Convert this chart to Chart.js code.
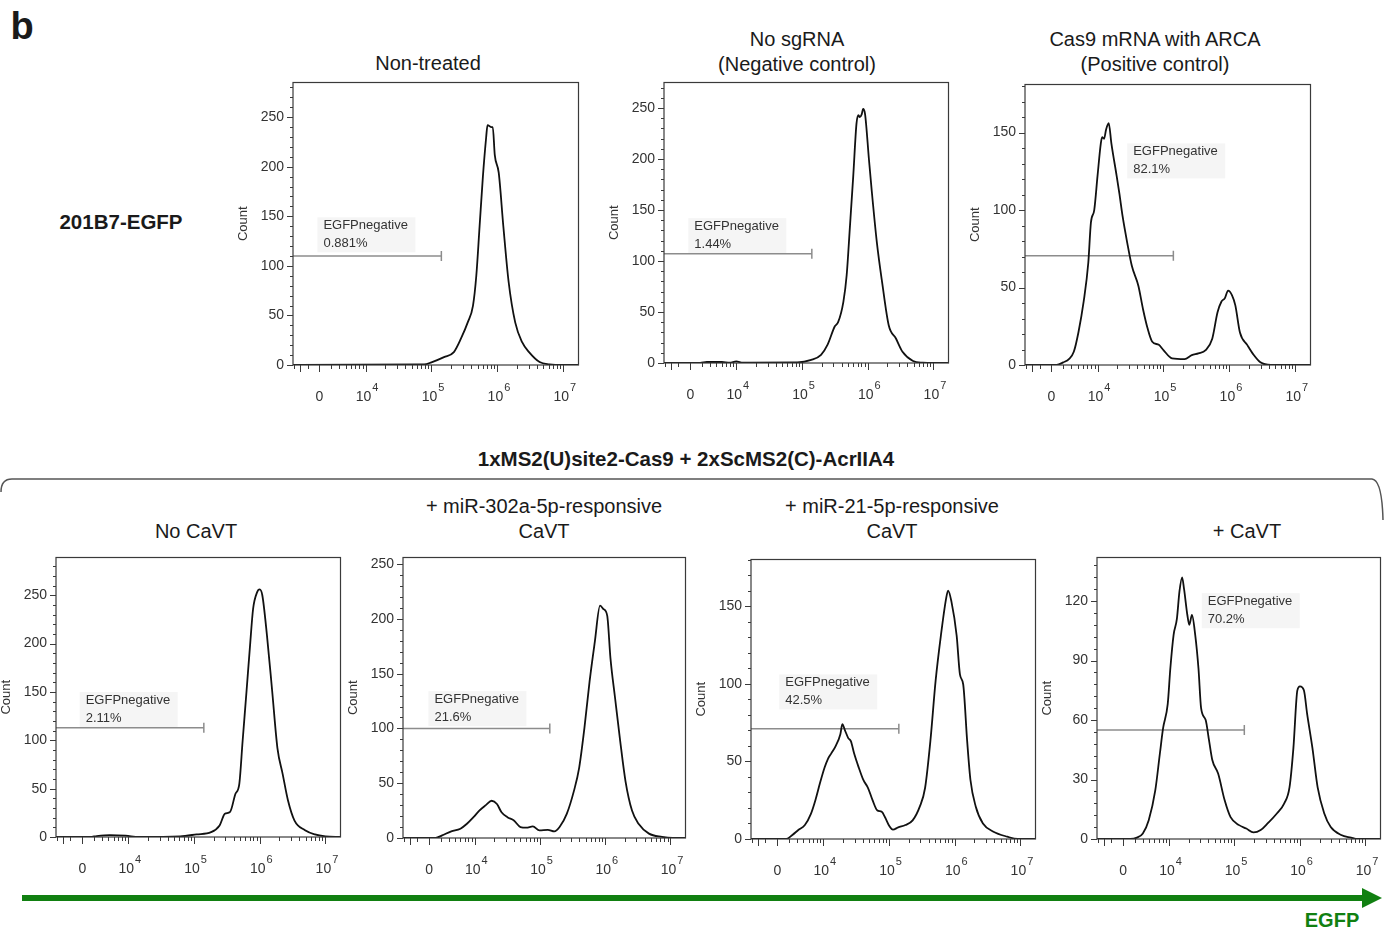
<!DOCTYPE html>
<html lang="en">
<head>
<meta charset="UTF-8">
<title>EGFP flow histograms</title>
<script src="https://cdn.jsdelivr.net/npm/chart.js"></script>
<style>
  body { margin: 0; background: #fff; font-family: "Liberation Sans", Arial, sans-serif; }
  #page { position: relative; width: 1394px; height: 932px; overflow: hidden; }
  .t { position: absolute; transform: translate(-50%, -50%); white-space: nowrap; color: #1a1a1a; font-size: 20px; line-height: 1; }
  .b { font-weight: bold; }
  canvas { position: absolute; }
  svg { position: absolute; left: 0; top: 0; }
</style>
</head>
<body>
<div id="page">
  <svg width="1394" height="932">
    <path d="M1 492 Q1 479 12 479 L1372 479 Q1382 480 1383 520" fill="none" stroke="#555" stroke-width="1.5"/>
    <line x1="22" y1="898" x2="1366" y2="898" stroke="#118011" stroke-width="6"/>
    <polygon points="1362,888 1382,898 1362,908" fill="#118011"/>
  </svg>
  <div class="t b" style="left:22px;top:26px;font-size:38px;">b</div>
  <div class="t" style="left:428px;top:63px;">Non-treated</div>
  <div class="t" style="left:797px;top:39px;">No sgRNA</div>
  <div class="t" style="left:797px;top:64px;">(Negative control)</div>
  <div class="t" style="left:1155px;top:39px;">Cas9 mRNA with ARCA</div>
  <div class="t" style="left:1155px;top:64px;">(Positive control)</div>
  <div class="t b" style="left:121px;top:222px;font-size:20.5px;">201B7-EGFP</div>
  <div class="t b" style="left:686px;top:459px;font-size:20.5px;">1xMS2(U)site2-Cas9 + 2xScMS2(C)-AcrIIA4</div>
  <div class="t" style="left:196px;top:531px;">No CaVT</div>
  <div class="t" style="left:544px;top:506px;">+ miR-302a-5p-responsive</div>
  <div class="t" style="left:544px;top:531px;">CaVT</div>
  <div class="t" style="left:892px;top:506px;">+ miR-21-5p-responsive</div>
  <div class="t" style="left:892px;top:531px;">CaVT</div>
  <div class="t" style="left:1247px;top:531px;">+ CaVT</div>
  <div class="t b" style="left:1332px;top:920px;font-size:20px;color:#118011;">EGFP</div>
</div>

<script>
// x values are positions on the biexponential EGFP axis, in decades (4 = 10^4, 3.3 = 0)
const nonTreatedX = [2.9, 4.89, 5.0, 5.19, 5.34, 5.45, 5.55, 5.63, 5.68, 5.73, 5.78, 5.83, 5.85, 5.91, 5.93, 5.96, 6.02, 6.09, 6.17, 6.27, 6.375, 6.48, 6.64, 6.79, 7.0, 7.23];
const nonTreatedCount = [0, 0.5, 2.7, 8, 13, 27, 43, 60, 90, 140, 190, 230, 242, 240, 240, 212, 194, 140, 84, 43, 23, 13, 3, 0.7, 0, 0];

const noSgRnaX = [2.9, 3.45, 3.55, 3.78, 3.9, 4.0, 4.1, 4.93, 5.14, 5.29, 5.39, 5.50, 5.55, 5.63, 5.68, 5.73, 5.78, 5.83, 5.86, 5.88, 5.91, 5.93, 5.96, 6.02, 6.06, 6.14, 6.22, 6.32, 6.43, 6.53, 6.69, 6.84, 7.0, 7.23];
const noSgRnaCount = [0, 0, 1, 1, 0.3, 1.6, 0.3, 0.5, 3, 8, 18, 36, 40, 60, 86, 134, 183, 235, 243, 241, 244, 249, 244, 199, 170, 118, 79, 37, 24, 11, 2, 0.3, 0, 0];

const arcaX = [2.9, 3.38, 3.48, 3.57, 3.64, 3.71, 3.79, 3.86, 3.90, 3.95, 4.0, 4.05, 4.07, 4.10, 4.13, 4.17, 4.21, 4.29, 4.33, 4.38, 4.45, 4.52, 4.62, 4.69, 4.76, 4.83, 4.93, 5.0, 5.13, 5.32, 5.43, 5.53, 5.64, 5.74, 5.82, 5.88, 5.93, 5.98, 6.04, 6.09, 6.16, 6.27, 6.37, 6.47, 6.63, 7.23];
const arcaCount = [0, 0, 1.7, 4, 8.5, 21, 41, 66, 92, 100, 122, 143, 147, 146, 152, 156, 143, 122, 111, 96, 79, 64, 51, 36, 23.5, 15, 13, 9.6, 4.3, 3.8, 6.4, 7.5, 9.6, 17, 34, 41, 43, 48, 45, 38.5, 21, 13, 6.4, 1.7, 0, 0];

const noCavtX = [2.9, 3.42, 3.52, 3.72, 3.96, 4.16, 4.79, 5.04, 5.26, 5.39, 5.47, 5.55, 5.63, 5.69, 5.74, 5.80, 5.85, 5.90, 5.96, 6.0, 6.04, 6.11, 6.19, 6.27, 6.35, 6.43, 6.53, 6.69, 6.84, 7.0, 7.23];
const noCavtCount = [0, 0, 1, 2, 1.4, 0, 0.7, 2.7, 5, 12, 24, 26, 44.5, 55, 99, 151, 195, 236, 253, 256, 250, 209, 151, 92, 65, 38, 17, 7, 2.7, 0.7, 0];

const mir302X = [2.9, 3.40, 3.50, 3.64, 3.78, 3.88, 3.98, 4.07, 4.17, 4.26, 4.34, 4.41, 4.50, 4.60, 4.70, 4.79, 4.89, 4.99, 5.12, 5.22, 5.30, 5.41, 5.52, 5.60, 5.68, 5.76, 5.84, 5.92, 5.97, 6.03, 6.08, 6.15, 6.23, 6.31, 6.41, 6.51, 6.67, 6.87, 7.03, 7.23];
const mir302Count = [0, 0, 2.4, 6, 8.5, 13, 19, 25, 30, 34, 31, 23.5, 19, 16, 10, 9.4, 10.6, 7, 7.5, 6, 10, 22, 43, 64, 100, 143, 179, 212, 209, 203, 164, 128, 88, 52, 25, 13, 4, 1, 0, 0];

const mir21X = [2.9, 3.44, 3.53, 3.62, 3.72, 3.81, 3.88, 3.95, 4.02, 4.07, 4.12, 4.19, 4.26, 4.29, 4.33, 4.38, 4.42, 4.47, 4.54, 4.61, 4.68, 4.75, 4.82, 4.89, 4.94, 5.01, 5.06, 5.14, 5.25, 5.36, 5.47, 5.55, 5.63, 5.71, 5.79, 5.87, 5.90, 5.95, 6.03, 6.08, 6.13, 6.19, 6.24, 6.32, 6.43, 6.59, 6.80, 6.96, 7.23];
const mir21Count = [0, 0, 2.6, 5.8, 9, 16, 25, 36, 46, 51.5, 55, 60, 67.5, 74, 70, 65, 63, 55, 46, 38, 33, 25, 18.5, 17.5, 14, 8, 6, 7.5, 9, 12, 21, 33, 63, 102, 131, 155, 160, 153, 131, 106, 99.5, 63, 38, 21, 10, 4.7, 1.5, 0, 0];

const cavtX = [2.9, 3.41, 3.51, 3.60, 3.69, 3.79, 3.86, 3.91, 3.98, 4.02, 4.07, 4.12, 4.16, 4.20, 4.23, 4.28, 4.31, 4.35, 4.40, 4.45, 4.49, 4.56, 4.61, 4.66, 4.75, 4.85, 4.94, 5.07, 5.18, 5.29, 5.40, 5.51, 5.65, 5.76, 5.84, 5.90, 5.96, 6.0, 6.06, 6.11, 6.19, 6.27, 6.37, 6.47, 6.63, 6.78, 6.88, 7.23];
const cavtCount = [0, 0, 0.7, 2.8, 9.5, 24.5, 43, 56, 68, 86, 103, 111, 125, 132, 126, 113, 108, 113, 103, 86, 66, 60, 50, 40, 33, 19.5, 11, 7, 5.3, 3.3, 4.5, 8, 13, 18, 26, 46, 75, 77, 75, 63, 46, 26, 13, 6, 2, 0.7, 0, 0];

const gatePercents = ['0.881%', '1.44%', '82.1%', '2.11%', '21.6%', '42.5%', '70.2%'];
const gateLevels = [110, 107, 70.5, 113, 100, 71, 55];
const gateEnd = 5.15;
const zeroPos = 3.3;
const decadeTicks = [4, 5, 6, 7];
const xMin = 2.9, xMax = 7.23;

// minor tick positions on the EGFP axis
const xTickPositions = [2.92, 3.0, 3.12, zeroPos];
[3, 4, 5, 6].forEach(d => {
    for (let k = (d === 3 ? 3 : 2); k <= 9; k++) xTickPositions.push(d + Math.log10(k));
});
decadeTicks.forEach(d => xTickPositions.push(d));

const panels = [
    {x: nonTreatedX, y: nonTreatedCount, box: [293, 80, 578, 365], yMax: 285, yMajor: 50, yMinor: 10, label: [3.27, 149]},
    {x: noSgRnaX, y: noSgRnaCount, box: [664, 80, 948, 363], yMax: 275, yMajor: 50, yMinor: 10, label: [3.27, 142]},
    {x: arcaX, y: arcaCount, box: [1025, 82, 1310, 365], yMax: 181, yMajor: 50, yMinor: 10, label: [4.45, 143]},
    {x: noCavtX, y: noCavtCount, box: [56, 555, 340, 837], yMax: 289, yMajor: 50, yMinor: 10, label: [3.26, 150]},
    {x: mir302X, y: mir302Count, box: [403, 555, 685, 838], yMax: 256, yMajor: 50, yMinor: 10, label: [3.29, 134]},
    {x: mir21X, y: mir21Count, box: [751, 557, 1035, 839], yMax: 180, yMajor: 50, yMinor: 10, label: [3.33, 106]},
    {x: cavtX, y: cavtCount, box: [1097, 555, 1380, 839], yMax: 142, yMajor: 30, yMinor: 6, label: [4.5, 124]}
];

const FONT = '"Liberation Sans", Arial, sans-serif';
Chart.defaults.font.family = FONT;
Chart.defaults.color = '#333';
Chart.defaults.animation = false;

const Y_AXIS_W = 57, X_AXIS_H = 42, PAD_T = 4, PAD_R = 4, EXTRA_W = 3;

function noScalePadding(s) {
    s.paddingTop = 0; s.paddingBottom = 0; s.paddingLeft = 0; s.paddingRight = 0;
}

const flowAxes = {
    id: 'flowAxes',
    beforeDatasetsDraw(chart) {
        const o = chart.options.plugins.flowAxes;
        const {ctx, scales: {x, y}} = chart;
        const lx = x.getPixelForValue(o.label[0]);
        const ly = y.getPixelForValue(o.label[1]);
        ctx.save();
        ctx.fillStyle = '#f5f5f5';
        ctx.fillRect(lx, ly, 98, 35);
        ctx.fillStyle = '#333';
        ctx.font = '13px ' + FONT;
        ctx.textAlign = 'left';
        ctx.textBaseline = 'alphabetic';
        ctx.fillText('EGFPnegative', lx + 6, ly + 12);
        ctx.fillText(o.pct, lx + 6, ly + 30);
        ctx.restore();
    },
    afterDraw(chart) {
        const o = chart.options.plugins.flowAxes;
        const {ctx, chartArea: a, scales: {x, y}} = chart;
        ctx.save();
        ctx.strokeStyle = '#3a3a3a';
        ctx.lineWidth = 1.2;
        ctx.strokeRect(a.left, a.top, a.right - a.left, a.bottom - a.top);

        ctx.lineWidth = 1;
        ctx.beginPath();
        y.ticks.forEach(t => {
            const py = Math.round(y.getPixelForValue(t.value)) + 0.5;
            const len = t.value % o.yMajor === 0 ? 6 : 3;
            ctx.moveTo(a.left - len, py);
            ctx.lineTo(a.left, py);
        });
        x.ticks.forEach(t => {
            const px = Math.round(x.getPixelForValue(t.value)) + 0.5;
            const major = Number.isInteger(t.value) || t.value === zeroPos;
            ctx.moveTo(px, a.bottom);
            ctx.lineTo(px, a.bottom + (major ? 7 : 4));
        });
        ctx.stroke();

        ctx.fillStyle = '#333';
        ctx.textBaseline = 'middle';
        ctx.font = '14px ' + FONT;
        ctx.textAlign = 'center';
        ctx.fillText('0', x.getPixelForValue(zeroPos), a.bottom + 32);
        decadeTicks.forEach(d => {
            const px = x.getPixelForValue(d);
            ctx.font = '14px ' + FONT;
            ctx.textAlign = 'center';
            const w = ctx.measureText('10').width;
            ctx.fillText('10', px - 2, a.bottom + 32);
            ctx.font = '11px ' + FONT;
            ctx.textAlign = 'left';
            ctx.fillText(String(d), px - 2 + w / 2 + 1, a.bottom + 23);
        });
        ctx.restore();
    }
};

const page = document.getElementById('page');

panels.forEach((p, i) => {
    const [l, t, r, b] = p.box;
    const cv = document.createElement('canvas');
    const w = (r - l) + Y_AXIS_W + PAD_R + EXTRA_W;
    const h = (b - t) + PAD_T + X_AXIS_H;
    cv.width = w; cv.height = h;
    cv.style.left = (l - Y_AXIS_W) + 'px';
    cv.style.top = (t - PAD_T) + 'px';
    cv.style.width = w + 'px';
    cv.style.height = h + 'px';
    page.appendChild(cv);

    new Chart(cv.getContext('2d'), {
        type: 'line',
        data: {
            datasets: [
                {
                    data: p.x.map((v, k) => ({x: v, y: p.y[k]})),
                    borderColor: '#111',
                    borderWidth: 1.8,
                    pointRadius: 0,
                    cubicInterpolationMode: 'monotone',
                    fill: false
                },
                {
                    data: [{x: xMin, y: gateLevels[i]}, {x: gateEnd, y: gateLevels[i]}],
                    borderColor: '#8c8c8c',
                    borderWidth: 1.5,
                    pointRadius: [0, 5],
                    pointStyle: 'line',
                    rotation: 90,
                    pointBorderColor: '#8c8c8c',
                    pointBorderWidth: 1.5
                }
            ]
        },
        options: {
            responsive: false,
            events: [],
            layout: {padding: {top: PAD_T, right: PAD_R, left: 0, bottom: 0}},
            plugins: {
                legend: {display: false},
                tooltip: {enabled: false},
                flowAxes: {label: p.label, pct: gatePercents[i], yMajor: p.yMajor}
            },
            scales: {
                x: {
                    type: 'linear',
                    min: xMin,
                    max: xMax,
                    afterBuildTicks: s => { s.ticks = xTickPositions.map(v => ({value: v})); },
                    afterFit: s => { s.height = X_AXIS_H; noScalePadding(s); },
                    grid: {display: false, drawTicks: false},
                    border: {display: false},
                    ticks: {display: false}
                },
                y: {
                    type: 'linear',
                    min: 0,
                    max: p.yMax,
                    afterBuildTicks: s => {
                        const ticks = [];
                        for (let v = 0; v <= p.yMax; v += p.yMinor) ticks.push({value: v});
                        s.ticks = ticks;
                    },
                    afterFit: s => { s.width = Y_AXIS_W; noScalePadding(s); },
                    grid: {display: false, drawTicks: false},
                    border: {display: false},
                    ticks: {
                        autoSkip: false,
                        padding: 9,
                        font: {size: 14},
                        color: '#333',
                        callback: v => (v % p.yMajor === 0 ? v : '')
                    },
                    title: {display: true, text: 'Count', font: {size: 13}, color: '#333', padding: 0}
                }
            }
        },
        plugins: [flowAxes]
    });
});
</script>
</body>
</html>
